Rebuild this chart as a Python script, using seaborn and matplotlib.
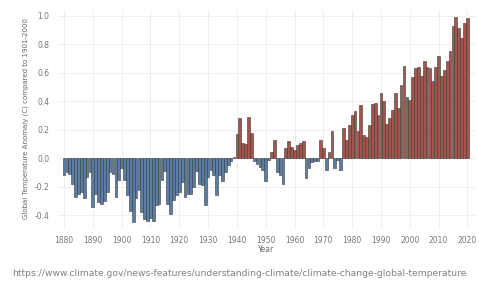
import numpy as np
import pandas as pd
import matplotlib
matplotlib.use("Agg")
import matplotlib.pyplot as plt
import seaborn as sns

# annual anomaly (C) vs 1901-2000
years = list(range(1880, 2021))
anomaly = [
    -0.12, -0.10, -0.11, -0.18, -0.27, -0.25, -0.24, -0.28, -0.13, -0.10,  # 1880s
    -0.34, -0.25, -0.31, -0.32, -0.30, -0.24, -0.10, -0.11, -0.27, -0.15,  # 1890s
    -0.07, -0.15, -0.26, -0.37, -0.45, -0.28, -0.22, -0.38, -0.43, -0.44,  # 1900s
    -0.42, -0.44, -0.33, -0.32, -0.15, -0.09, -0.32, -0.39, -0.29, -0.26,  # 1910s
    -0.24, -0.17, -0.27, -0.25, -0.25, -0.20, -0.09, -0.18, -0.19, -0.33,  # 1920s
    -0.13, -0.08, -0.12, -0.26, -0.12, -0.16, -0.10, -0.05, -0.02, 0.01,   # 1930s
    0.17, 0.28, 0.11, 0.10, 0.29, 0.18, -0.02, -0.04, -0.06, -0.08,        # 1940s
    -0.16, -0.01, 0.04, 0.13, -0.10, -0.12, -0.18, 0.07, 0.12, 0.08,       # 1950s
    0.06, 0.09, 0.11, 0.12, -0.14, -0.07, -0.03, -0.02, -0.02, 0.13,       # 1960s
    0.07, -0.08, 0.04, 0.19, -0.07, -0.01, -0.08, 0.21, 0.13, 0.23,        # 1970s
    0.30, 0.33, 0.19, 0.37, 0.16, 0.15, 0.23, 0.38, 0.39, 0.30,            # 1980s
    0.46, 0.40, 0.24, 0.28, 0.34, 0.46, 0.35, 0.51, 0.65, 0.43,            # 1990s
    0.41, 0.57, 0.63, 0.64, 0.58, 0.68, 0.64, 0.63, 0.54, 0.64,            # 2000s
    0.72, 0.58, 0.62, 0.68, 0.75, 0.93, 0.99, 0.91, 0.84, 0.95,            # 2010s
    0.98,                                                                  # 2020
]
year_ticks = list(range(1880, 2021, 10))
y_ticks = [-0.4, -0.2, 0.0, 0.2, 0.4, 0.6, 0.8, 1.0]

df = pd.DataFrame({"Year": years, "Anomaly": anomaly})
df["sign"] = np.where(df["Anomaly"] < 0, "neg", "pos")

sns.set_style("whitegrid")
fig = plt.figure(figsize=(4.79, 2.84), dpi=100)
ax = fig.add_axes([0.121, 0.197, 0.871, 0.768])

sns.barplot(data=df, x="Year", y="Anomaly", hue="sign", native_scale=True,
            palette={"neg": "#4d7db0", "pos": "#b04a3d"}, dodge=False,
            width=0.95, edgecolor="#3a3a3a", linewidth=0.4, legend=False, ax=ax)

ax.set_xlim(1877.9, 2022.7)
ax.set_ylim(-0.49, 1.04)
ax.set_xticks(year_ticks)
ax.set_yticks(y_ticks)
ax.set_yticklabels([f"{t:.1f}" for t in y_ticks])
ax.tick_params(axis="both", labelsize=5.5, colors="#777777", length=0, pad=6)
ax.grid(color="#ebebeb", linewidth=0.6)
for s in ax.spines.values():
    s.set_visible(False)

ax.set_xlabel("Year", fontsize=5.5, color="#666666", labelpad=0)
ax.set_ylabel("Global Temperature Anomaly (C) compared to 1901-2000",
              fontsize=5.0, color="#666666", labelpad=4)

fig.text(0.5, 0.02,
         "https://www.climate.gov/news-features/understanding-climate/climate-change-global-temperature",
         ha="center", va="bottom", fontsize=6.6, color="#808080")

fig.savefig("out.png", dpi=100)
